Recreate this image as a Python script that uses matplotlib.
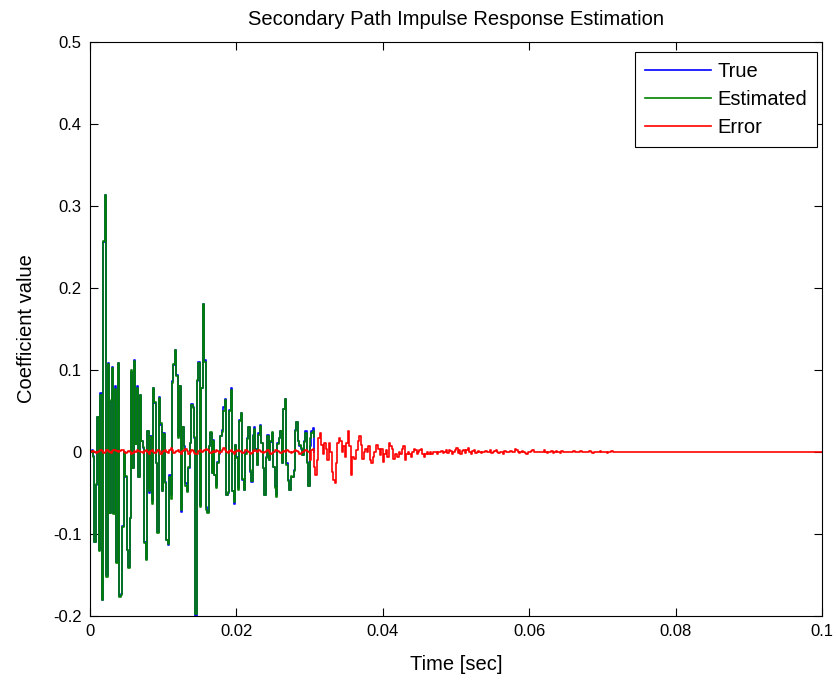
import numpy as np
import matplotlib
matplotlib.use('Agg')
import matplotlib.pyplot as plt

plt.rcParams['font.family'] = ['Liberation Sans', 'DejaVu Sans']
plt.rcParams['axes.unicode_minus'] = False

fs = 5000.0  # one value read per 0.2 ms
t_max = 0.1

# secondary path, true coefficients
true_vals = [
    0.0, 0.002, -0.005, -0.11, -0.04, 0.043, -0.12, 0.072, -0.18, 0.256,
    0.313, -0.15, 0.108, -0.075, 0.062, 0.104, -0.074, 0.08, -0.134, 0.108,
    -0.176, -0.173, -0.09, 0.0, -0.03, -0.12, -0.14, -0.08, 0.098, -0.02,
    0.112, 0.01, 0.08, -0.03, 0.07, 0.013, 0.005, -0.11, -0.13, 0.025,
    -0.05,
    0.019, -0.06, 0.078, 0.06, -0.014, -0.097, 0.067, 0.033, -0.048, 0.023,
    -0.036, -0.107, -0.113, -0.028, -0.052, 0.086, 0.106, 0.124, 0.094, 0.019,
    0.08, -0.073, 0.031, 0.007, -0.038, -0.048, -0.02, 0.011, 0.059, 0.055,
    0.017, -0.2, 0.086, 0.11, -0.065, 0.078, 0.181, 0.112, -0.067, -0.073,
    0.007, 0.023, -0.026,
    0.015, -0.028, -0.042, -0.012, -0.002, 0.019, 0.027, 0.055, 0.065, -0.052,
    -0.05, 0.051, 0.078, -0.048, -0.063, 0.009, -0.006, -0.044, 0.039, 0.047,
    -0.034, -0.046, 0.0, 0.017, 0.031, -0.024, -0.036, 0.021, 0.031, 0.004,
    -0.016, 0.023, 0.033, 0.011, -0.02, -0.052, -0.006, 0.021, -0.01, 0.012,
    0.023, -0.018, -0.042, -0.052, 0.011, 0.017, 0.025, -0.014, 0.053, 0.065,
    -0.014, -0.034, -0.046, -0.03, -0.03, -0.022, 0.027, 0.037, 0.013, 0.007,
    0.004, -0.004, 0.013, 0.025, -0.012, -0.042, 0.007, 0.025, 0.029, 0.0,
]

# error (x 1e-3), while the estimate runs
err_head = [
    0, 1, 1, 0, -1, 0, 1, 2, 1, -1, 0, 2, 1, 0, -1, 1, 2, 3, 1, 0,
    1, 2, 2, 0, -1, 0, 1, 0, -2, -1, 1, 0, 2, 1, 0, 0, -1, 1, 2, 0,
    -2, 1, 3, 0, -1, 0, 2, 1, -2, 0, 1, 2, 0, -1, 3, 5, 2, -1, 0, 1,
    2, 0, -2, 1, 3, 4, 1, -2, 0, 2, 1, -1, -3, -2, 1, 2, 0, 1, 2, 4,
    2, 0, -1, 0, 1, 0, 2, 1, -1, 0, 3, 5, 2, 0, -1, 1, 2, 0, -2, 0,
    1, 2, 1, 0, -1, 0, 2, 1, 0, -2, -1, 1, 3, 1, 0, 2, 1, 0, -1, 0,
    1, 2, 0, -2, -1, 0, 2, 3, 1, 0, -1, 0, 1, 0, 2, 1, 0, -1, 0, 1,
    2, 1, 0, -2, -1, 0, 1, 2, 1, 0,
]
# error (x 1e-3), tail of the true path beyond the estimate
err_mid = [
    -10, 2, 4, -18, -28, -10, 17, 23, 9, -2, 11, 4, -10, 11, 0, -24,
    -34, -38, -14, 11, 17, 13, 0, 7, -6, 11, 25, 7, -28, -6, -8, -8,
    2, 13, 19, 9, -8, 0, 4, 0, 7, -10, -14, -6, 0, 9, 9, 4, -4, 4,
    -12, -2, 2, -6, 11, 7, 4, -8, -2, -2, -6, 0, -2, 4, 7, -10, -2, 0,
    -2, -6, 0, 4, 2, -2, 0, 2, 4, -2, -6, -2, 0, -2, 0, -2, 0, 0,
    0, -2, 0, 0,
]
err_tail = [
    1, -1, 0, 2, -1, 3, 1, -2, 0, 2, 5, -1, 2, -3, 1, 3, -1, 2, 5, 0,
    -2, 1, 2, -1, 0, 1, 0, -1, 0, 0, 1, 0, 0, 2, -1, 0, 1, 2, 0, -1,
    0, 0, -2, 1, 0, 0, 0, 1, 0, 0, 4, 2, 0, -1, 0, 1, 0, -1, -2, 0,
    0, 1, 2, 0, 0, 0, 0, 0, 0, 0, 2, 0, -1, 0, 0, 1, -1, 0, 1, 0,
    0, -1, 1, 0, 0, 0, 0, 0, 0, 0, 1, 0, 0, 0, 0, 1, 0, 0, 0, 0,
    0, 1, 0, -1, 0, 0, 0, 0, 1, 0, 0, 0, 0, -1, 0, 0, 1, 0, 0, 0,
]

true_vals = np.array(true_vals)
err = np.array(err_head + err_mid + err_tail) / 1000.0
n_total = int(round(t_max * fs)) + 1
err = np.concatenate([err, np.zeros(n_total - len(err))])
est_vals = true_vals - err[:len(true_vals)]

t_true = np.arange(len(true_vals)) / fs
t_err = np.arange(n_total) / fs

fig = plt.figure(figsize=(8.36, 6.82), dpi=100)
ax = fig.add_axes([0.1077, 0.0968, 0.8756, 0.8416])

ax.plot(t_true, true_vals, color=(0, 0, 1), linewidth=1.2, drawstyle='steps-post', label='True')
ax.plot(t_true, est_vals, color=(0, 0.5, 0), linewidth=1.2, drawstyle='steps-post', label='Estimated')
ax.plot(t_err, err, color=(1, 0, 0), linewidth=1.2, drawstyle='steps-post', label='Error')

ax.set_xlim(0, 0.1)
ax.set_ylim(-0.2, 0.5)
ax.set_xticks([0, 0.02, 0.04, 0.06, 0.08, 0.1])
ax.set_xticklabels(['0', '0.02', '0.04', '0.06', '0.08', '0.1'])
ax.set_yticks([-0.2, -0.1, 0, 0.1, 0.2, 0.3, 0.4, 0.5])
ax.set_yticklabels(['-0.2', '-0.1', '0', '0.1', '0.2', '0.3', '0.4', '0.5'])
ax.tick_params(direction='in', top=True, right=True, length=6, width=0.8,
               labelsize=12, pad=6)
for s in ax.spines.values():
    s.set_linewidth(0.8)

ax.set_title('Secondary Path Impulse Response Estimation', fontsize=14.5, pad=12)
ax.set_xlabel('Time [sec]', fontsize=14.5, labelpad=11)
ax.set_ylabel('Coefficient value', fontsize=14.5, labelpad=12)

leg = ax.legend(loc='upper right', bbox_to_anchor=(0.993, 0.983), borderaxespad=0,
                fontsize=14.5, handlelength=3.3, handletextpad=0.3,
                labelspacing=0.45, fancybox=False, framealpha=1, borderpad=0.5)
leg.get_frame().set_edgecolor('black')
leg.get_frame().set_linewidth(0.8)

fig.savefig('out.png', dpi=100)
